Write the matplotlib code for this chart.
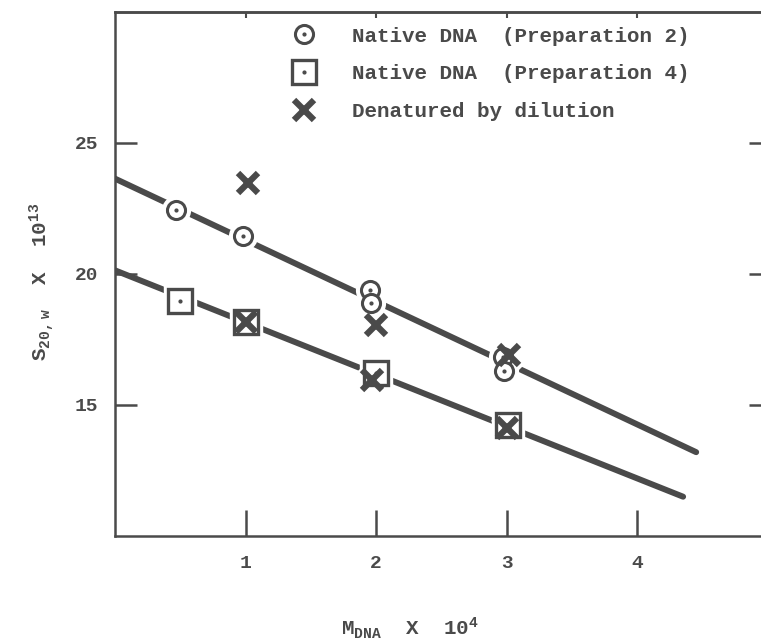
import matplotlib.pyplot as plt
from matplotlib.legend_handler import HandlerTuple

# --- data ---
# Native DNA, preparation 2 (circles)
prep2_m = [0.47, 0.98, 1.95, 1.96, 2.97, 2.98]
prep2_s = [22.46, 21.45, 19.38, 18.90, 16.85, 16.28]

# Native DNA, preparation 4 (squares)
prep4_m = [0.50, 1.00, 2.00, 3.01]
prep4_s = [18.98, 18.18, 16.23, 14.25]

# Denatured by dilution (crosses)
denat_m = [1.02, 1.00, 2.00, 1.97, 3.02, 3.00]
denat_s = [23.46, 18.18, 18.05, 15.96, 16.91, 14.14]

# hand drawn lines through the native points
upper_m = [0.0, 4.45]
upper_s = [23.64, 13.20]
lower_m = [0.0, 4.35]
lower_s = [20.14, 11.50]

x_ticks = [1, 2, 3, 4]
y_ticks = [15, 20, 25]

labels = ["Native DNA  (Preparation 2)",
          "Native DNA  (Preparation 4)",
          "Denatured by dilution"]

ink = '#4a4a4a'
plt.rcParams['font.family'] = ['Liberation Mono', 'DejaVu Sans Mono']
plt.rcParams['font.weight'] = 'bold'
plt.rcParams['mathtext.default'] = 'regular'

fig = plt.figure(figsize=(7.61, 6.43), dpi=100)
ax = fig.add_axes([115 / 761, 107 / 643, 653 / 761, 524 / 643])

# lines
ax.plot(upper_m, upper_s, color=ink, lw=4.3, solid_capstyle='round', zorder=2)
ax.plot(lower_m, lower_s, color=ink, lw=4.3, solid_capstyle='round', zorder=2)

# white halos so the lines break around the symbols
ax.plot(prep2_m, prep2_s, 'o', ms=20, color='white', zorder=3)
ax.plot(prep4_m, prep4_s, 's', ms=23, color='white', zorder=3)
ax.plot(denat_m, denat_s, 'x', ms=17, mew=9, color='white', zorder=3)

# symbols
circ, = ax.plot(prep2_m, prep2_s, 'o', ms=13, mew=2.2, mfc='white', mec=ink, zorder=4)
circ_dot, = ax.plot(prep2_m, prep2_s, '.', ms=4, color=ink, zorder=5)
sq, = ax.plot(prep4_m, prep4_s, 's', ms=17, mew=2.4, mfc='white', mec=ink, zorder=4)
sq_dot, = ax.plot(prep4_m, prep4_s, '.', ms=4, color=ink, zorder=5)
cross, = ax.plot(denat_m, denat_s, 'x', ms=15, mew=4.5, color=ink, zorder=6)

ax.legend([(circ, circ_dot), (sq, sq_dot), cross], labels,
          handler_map={tuple: HandlerTuple(ndivide=1, pad=0)},
          loc='upper left', bbox_to_anchor=(0.274, 0.972), frameon=False,
          fontsize=15, labelcolor=ink, handlelength=1.0, handletextpad=1.8,
          labelspacing=0.9, borderpad=0, borderaxespad=0)

ax.set_xlim(0, 5)
ax.set_ylim(10, 30)

ax.spines['right'].set_visible(False)
for side in ['left', 'bottom', 'top']:
    ax.spines[side].set_color(ink)
    ax.spines[side].set_linewidth(1.8)

ax.set_xticks(x_ticks)
ax.set_yticks(y_ticks)
ax.tick_params(axis='x', direction='in', length=19, width=1.8, color=ink,
               labelsize=14, labelcolor=ink, pad=14, top=False)
ax.tick_params(axis='y', direction='in', length=16, width=1.8, color=ink,
               labelsize=14, labelcolor=ink, pad=12, right=False)

top = ax.secondary_xaxis('top')
top.set_xticks(x_ticks)
top.tick_params(direction='in', length=4, width=1.5, color=ink, labeltop=False)
top.spines['top'].set_color(ink)
top.spines['top'].set_linewidth(1.8)

right = ax.secondary_yaxis('right')
right.set_yticks(y_ticks)
right.tick_params(direction='in', length=14, width=1.8, color=ink, labelright=False)

fig.text(410 / 761, 1 - 628 / 643, r'$M_{DNA}$  X  $10^{4}$', ha='center', va='center',
         fontsize=15, color=ink)
fig.text(42 / 761, 1 - 282 / 643, r'$S_{20,w}$  X  $10^{13}$', ha='center', va='center',
         rotation=90, fontsize=15, color=ink)

plt.savefig('out.png', dpi=100)
plt.close()
